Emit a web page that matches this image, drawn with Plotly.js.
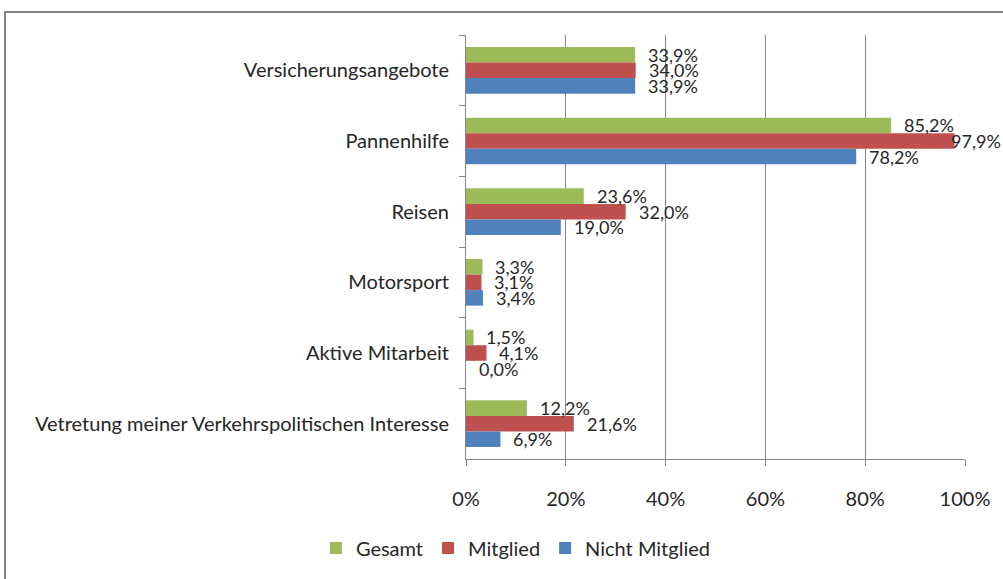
<!DOCTYPE html>
<html>
<head>
<meta charset="utf-8">
<script src="https://cdn.plot.ly/plotly-3.0.1.min.js"></script>
<style>
html,body{margin:0;padding:0;background:#fff;}
#frame{position:absolute;left:4px;top:11px;width:1010px;height:600px;border:2px solid #808080;box-sizing:border-box;pointer-events:none;}
#chart{position:absolute;left:0;top:0;width:1003px;height:579px;}
</style>
</head>
<body>
<div id="chart"></div>
<div id="frame"></div>
<script>
const categories = ["Versicherungsangebote","Pannenhilfe","Reisen","Motorsport","Aktive Mitarbeit","Vetretung meiner Verkehrspolitischen Interesse"];
const seriesNames = ["Gesamt","Mitglied","Nicht Mitglied"];
const gesamt = [33.9, 85.2, 23.6, 3.3, 1.5, 12.2];
const mitglied = [34.0, 97.9, 32.0, 3.1, 4.1, 21.6];
const nichtMitglied = [33.9, 78.2, 19.0, 3.4, 0.0, 6.9];
const xTicks = [0, 20, 40, 60, 80, 100];

const allSeries = [gesamt, mitglied, nichtMitglied];
const colors = ["#9BBB59", "#C0504D", "#4F81BD"];
const fmt = v => v.toFixed(1).replace('.', ',') + '%';
const font = "Lato, 'Open Sans', sans-serif";
const txtColor = '#262626';

const W = 1003, H = 579;
const margin = {l: 466, r: 38, t: 35, b: 117};
const bargap = 0.34;
const bandPx = (H - margin.t - margin.b) / categories.length;
const barPx = bandPx * (1 - bargap) / allSeries.length;

const traces = allSeries.map((vals, i) => ({
  type: 'bar',
  orientation: 'h',
  name: seriesNames[i],
  y: categories,
  x: vals,
  marker: {color: colors[i]},
  hoverinfo: 'skip'
}));

const annotations = [];
allSeries.forEach((vals, i) => {
  vals.forEach((v, j) => {
    annotations.push({
      x: v, y: categories[j], xref: 'x', yref: 'y',
      text: fmt(v), showarrow: false,
      xanchor: 'left', yanchor: 'middle',
      xshift: v > 95 ? -6 : 11,
      yshift: (1 - i) * barPx,
      font: {family: font, size: 18, color: txtColor}
    });
  });
});

const layout = {
  width: W, height: H,
  margin: margin,
  paper_bgcolor: '#ffffff',
  plot_bgcolor: '#ffffff',
  barmode: 'group',
  bargap: bargap,
  bargroupgap: 0,
  showlegend: true,
  annotations: annotations,
  legend: {orientation: 'h', x: 0.1, xanchor: 'center', y: -0.21, yanchor: 'middle',
           font: {family: font, size: 20, color: txtColor}, traceorder: 'normal', itemwidth: 30},
  xaxis: {
    range: [0, 100], tickvals: xTicks, ticktext: xTicks.map(v => v + '%'),
    showgrid: true, gridcolor: '#868686', gridwidth: 1,
    showline: true, linecolor: '#868686', linewidth: 1,
    ticks: 'outside', ticklen: 6, tickcolor: '#868686',
    ticklabelstandoff: 16,
    tickfont: {family: font, size: 20, color: txtColor},
    zeroline: false, fixedrange: true
  },
  yaxis: {
    type: 'category', autorange: 'reversed',
    tickson: 'boundaries', ticks: 'outside', ticklen: 6, tickcolor: '#868686',
    showline: true, linecolor: '#868686', linewidth: 1,
    showgrid: false, ticklabelstandoff: 12,
    tickfont: {family: font, size: 20, color: txtColor},
    fixedrange: true
  }
};

Plotly.newPlot('chart', traces, layout, {displayModeBar: false, staticPlot: true});
</script>
</body>
</html>
